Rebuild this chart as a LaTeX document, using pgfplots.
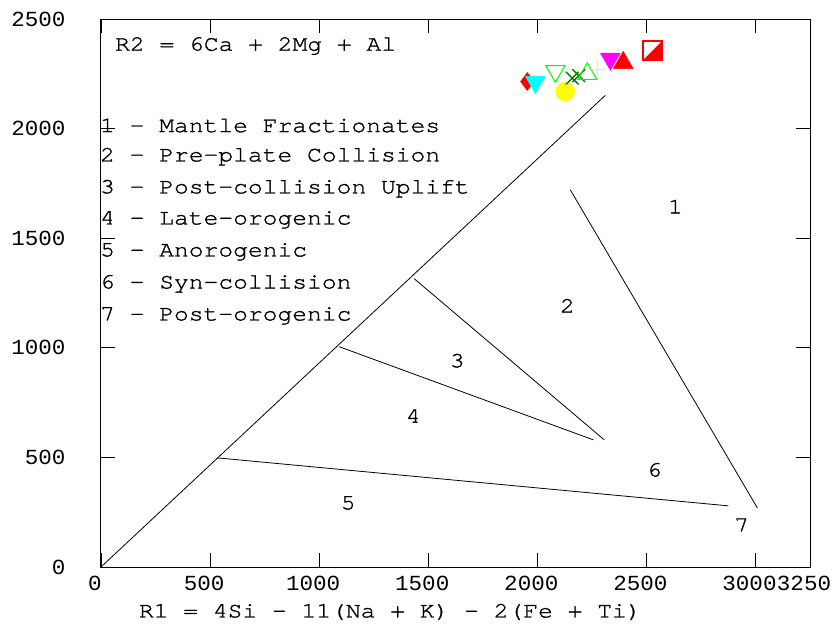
\documentclass[border=0pt]{standalone}
\usepackage{fontspec}
\setmainfont[FakeStretch=1.12, FakeBold=1.2]{TeX Gyre Cursor}
\newfontfamily\tickfont[FakeStretch=1.05]{Liberation Mono}
\usepackage{pgfplots}
\pgfplotsset{compat=1.18}
\pgfdeclareplotmark{halfsq}{%
  \pgfpathrectangle{\pgfqpoint{-\pgfplotmarksize}{-\pgfplotmarksize}}{\pgfqpoint{2\pgfplotmarksize}{2\pgfplotmarksize}}%
  \pgfsetfillcolor{white}\pgfusepath{fill}%
  \pgfpathmoveto{\pgfqpoint{\pgfplotmarksize}{\pgfplotmarksize}}%
  \pgfpathlineto{\pgfqpoint{\pgfplotmarksize}{-\pgfplotmarksize}}%
  \pgfpathlineto{\pgfqpoint{-\pgfplotmarksize}{-\pgfplotmarksize}}%
  \pgfpathclose\pgfsetfillcolor{red}\pgfusepath{fill}%
  \pgfpathrectangle{\pgfqpoint{-\pgfplotmarksize}{-\pgfplotmarksize}}{\pgfqpoint{2\pgfplotmarksize}{2\pgfplotmarksize}}%
  \pgfsetstrokecolor{red}\pgfsetlinewidth{1.5pt}\pgfusepath{stroke}%
}
\definecolor{dgreen}{RGB}{0,128,0}
\definecolor{cyanc}{RGB}{0,255,255}
\definecolor{magc}{RGB}{255,0,255}
\definecolor{yelc}{RGB}{255,255,0}
\definecolor{grnc}{RGB}{0,255,0}
\definecolor{redc}{RGB}{255,0,0}
\begin{document}
\begin{tikzpicture}
\begin{axis}[
  scale only axis, width=709pt, height=548pt,
  xmin=0, xmax=3250, ymin=0, ymax=2500,
  xtick={0,500,1000,1500,2000,2500,3000,3250},
  ytick={0,500,1000,1500,2000,2500},
  tick align=inside, major tick length=14pt,
  tick style={black, line width=0.8pt},
  axis line style={line width=1pt},
  /pgf/number format/assume math mode=true,
  /pgf/number format/1000 sep={},
  tick label style={font=\tickfont\fontsize{21.5}{24}\selectfont},
  xticklabel style={yshift=-6pt, xshift=-6pt},
  yticklabel style={xshift=-32pt},
  xlabel={R1 = 4Si - 11(Na + K) - 2(Fe + Ti)},
  xlabel style={font=\fontsize{22}{24}\selectfont, at={(axis description cs:0.408,0)}, anchor=center, yshift=-45pt},
  clip=false,
]
% boundary lines
\addplot[black, line width=0.8pt] coordinates {(0,0) (2312,2152)};
\addplot[black, line width=0.8pt] coordinates {(532,498) (2876,279)};
\addplot[black, line width=0.8pt] coordinates {(1092,1005) (2257,580)};
\addplot[black, line width=0.8pt] coordinates {(1436,1315) (2307,580)};
\addplot[black, line width=0.8pt] coordinates {(2151,1721) (3009,269)};
% samples
\addplot[only marks, mark=diamond*, mark size=9, redc, mark options={fill=redc, draw=redc}] coordinates {(1954,2215)};
\addplot[only marks, mark=triangle*, mark size=11.5, cyanc, mark options={fill=cyanc, draw=cyanc, rotate=180}] coordinates {(1991,2212)};
\addplot[only marks, mark=triangle, mark size=11, grnc, mark options={line width=1pt, rotate=180}] coordinates {(2083,2262)};
\addplot[only marks, mark=*, mark size=9.5, yelc, mark options={fill=yelc, draw=yelc}] coordinates {(2128,2169)};
\addplot[only marks, mark=x, mark size=9, dgreen, mark options={line width=1.4pt}] coordinates {(2160,2230) (2190,2242)};
\addplot[only marks, mark=triangle, mark size=11, grnc, mark options={line width=1pt}] coordinates {(2229,2250)};
\addplot[only marks, mark=+, mark size=8.5, yelc, mark options={line width=1.2pt}] coordinates {(2275,2269)};
\addplot[only marks, mark=triangle*, mark size=11.5, magc, mark options={fill=magc, draw=magc, rotate=180}] coordinates {(2335,2318)};
\addplot[only marks, mark=triangle*, mark size=11.5, redc, mark options={fill=redc, draw=redc}] coordinates {(2394,2300)};
\addplot[only marks, mark=halfsq, mark size=9.5] coordinates {(2528,2356)};
% texts
\begin{scope}[every node/.style={font=\fontsize{22}{24}\selectfont, inner sep=0pt}]
\node[anchor=west] at (axis cs:64,2377) {R2 = 6Ca + 2Mg + Al};
\node[anchor=west] at (axis cs:-5,2014) {1 - Mantle Fractionates};
\node[anchor=west] at (axis cs:-5,1872) {2 - Pre-plate Collision};
\node[anchor=west] at (axis cs:-5,1726) {3 - Post-collision Uplift};
\node[anchor=west] at (axis cs:-5,1584) {4 - Late-orogenic};
\node[anchor=west] at (axis cs:-5,1438) {5 - Anorogenic};
\node[anchor=west] at (axis cs:-5,1292) {6 - Syn-collision};
\node[anchor=west] at (axis cs:-5,1146) {7 - Post-orogenic};
\node at (axis cs:2633,1644) {1};
\node at (axis cs:2138,1192) {2};
\node at (axis cs:1633,941) {3};
\node at (axis cs:1431,689) {4};
\node at (axis cs:1133,292) {5};
\node at (axis cs:2537,443) {6};
\node at (axis cs:2936,192) {7};
\end{scope}
\end{axis}
\pgfresetboundingbox
\path (-101pt,-58pt) rectangle (733pt,567pt);
\end{tikzpicture}
\end{document}
